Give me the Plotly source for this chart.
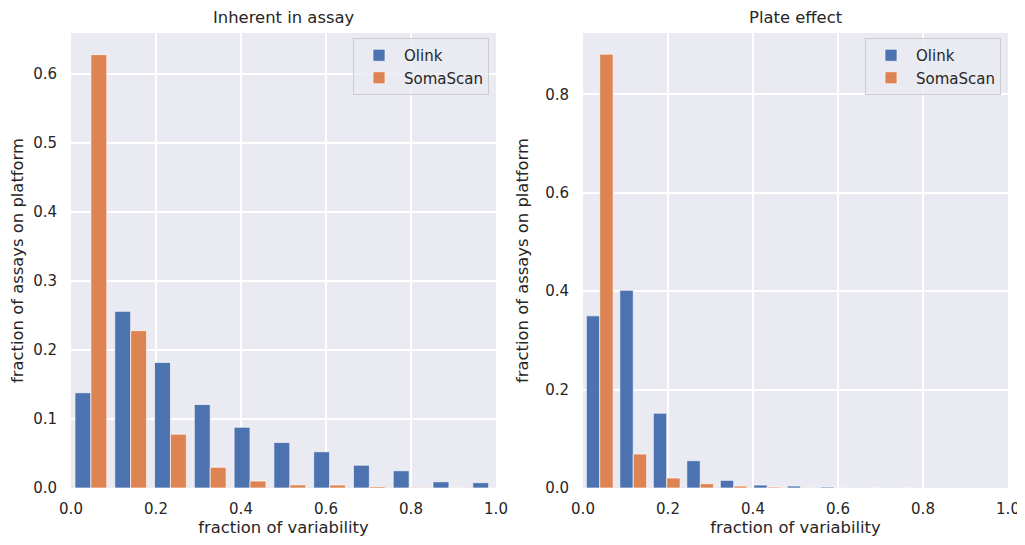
import plotly.graph_objects as go

# ---- data ----
platforms = ["Olink", "SomaScan"]

left_title = "Inherent in assay"
left_bin_width = 0.0936
left_bin_centers = [0.0468, 0.1404, 0.2340, 0.3276, 0.4212, 0.5148, 0.6084, 0.7020, 0.7956, 0.8892, 0.9828]
left_olink = [0.138, 0.256, 0.182, 0.121, 0.088, 0.066, 0.0525, 0.033, 0.025, 0.009, 0.0077]
left_somascan = [0.628, 0.228, 0.078, 0.030, 0.0101, 0.0045, 0.0043, 0.002, 0.001, 0.0005, 0.0003]

right_title = "Plate effect"
right_bin_width = 0.0788
right_bin_centers = [0.0394, 0.1182, 0.1970, 0.2758, 0.3546, 0.4334, 0.5122, 0.5910, 0.6698, 0.7486]
right_olink = [0.350, 0.402, 0.152, 0.0555, 0.0156, 0.006, 0.004, 0.002, 0.001, 0.001]
right_somascan = [0.882, 0.069, 0.0203, 0.0088, 0.004, 0.002, 0.001, 0.0008, 0.0005, 0.0005]

x_ticks = [0.0, 0.2, 0.4, 0.6, 0.8, 1.0]
x_tick_labels = ["0.0", "0.2", "0.4", "0.6", "0.8", "1.0"]
left_y_ticks = [0.0, 0.1, 0.2, 0.3, 0.4, 0.5, 0.6]
left_y_tick_labels = ["0.0", "0.1", "0.2", "0.3", "0.4", "0.5", "0.6"]
right_y_ticks = [0.0, 0.2, 0.4, 0.6, 0.8]
right_y_tick_labels = ["0.0", "0.2", "0.4", "0.6", "0.8"]
x_label = "fraction of variability"
y_label = "fraction of assays on platform"

# ---- style ----
colors = {"Olink": "#4C72B0", "SomaScan": "#DD8452"}
text_color = "#262626"
bg = "#EAEAF2"
# page body has an 8px margin inside the 1025x545 window
OFF = 8
W, H = 1025 - OFF - 3, 545 - 2 * OFF

fig = go.Figure()


def add_panel(centers, bw, olink, soma, xa, ya, legend_name):
    for name, vals, off in [("Olink", olink, -0.4 * bw), ("SomaScan", soma, 0.0)]:
        fig.add_trace(go.Bar(
            x=centers, y=vals, name=name,
            width=[0.4 * bw] * len(centers),
            offset=off,
            marker=dict(color=colors[name], line=dict(color="rgba(255,255,255,0.65)", width=1)),
            xaxis=xa, yaxis=ya, legend=legend_name,
        ))


add_panel(left_bin_centers, left_bin_width, left_olink, left_somascan, "x", "y", "legend")
add_panel(right_bin_centers, right_bin_width, right_olink, right_somascan, "x2", "y2", "legend2")

# domains in window pixels, converted to figure coordinates
lx0, lx1 = 71 - OFF, 496 - OFF
rx0, rx1 = 583 - OFF, 1008 - OFF
ytop, ybot = 33 - OFF, 488 - OFF
dom_y = [(H - ybot) / H, (H - ytop) / H]
leg_top = 38 - OFF
title_y = 17 - OFF

axis_common = dict(
    showgrid=True, gridcolor="white", gridwidth=1.6, zeroline=False, automargin=False,
    showline=False, ticks="", ticklabeloverflow="allow",
    tickfont=dict(size=15, color=text_color, family="DejaVu Sans"),
    title_font=dict(size=16.4, color=text_color, family="DejaVu Sans"),
)

legend_common = dict(
    xanchor="right", y=1 - leg_top / H, yanchor="top",
    bgcolor="rgba(234,234,242,0.85)", bordercolor="#CCCCCC", borderwidth=1,
    itemwidth=40,
    font=dict(size=15, color=text_color, family="DejaVu Sans"),
)

fig.update_layout(
    width=W, height=H,
    margin=dict(l=0, r=0, t=0, b=0, autoexpand=False),
    paper_bgcolor="white",
    plot_bgcolor=bg,
    barmode="overlay",
    font=dict(family="DejaVu Sans", color=text_color),
    xaxis=dict(domain=[lx0 / W, lx1 / W], range=[0, 1], tickvals=x_ticks, ticktext=x_tick_labels,
               anchor="y", title=dict(text=x_label, standoff=7), ticklabelstandoff=10, **axis_common),
    yaxis=dict(domain=dom_y, range=[0, 0.6594], tickvals=left_y_ticks, ticktext=left_y_tick_labels,
               anchor="x", title=dict(text=y_label, standoff=12), ticklabelstandoff=13, **axis_common),
    xaxis2=dict(domain=[rx0 / W, rx1 / W], range=[0, 1], tickvals=x_ticks, ticktext=x_tick_labels,
                anchor="y2", title=dict(text=x_label, standoff=7), ticklabelstandoff=10, **axis_common),
    yaxis2=dict(domain=dom_y, range=[0, 0.925], tickvals=right_y_ticks, ticktext=right_y_tick_labels,
                anchor="x2", title=dict(text=y_label, standoff=12), ticklabelstandoff=13, **axis_common),
    legend=dict(x=(489 - OFF) / W, **legend_common),
    legend2=dict(x=(1001 - OFF) / W, **legend_common),
    annotations=[
        dict(text=left_title, x=(lx0 + lx1) / 2 / W, y=1 - title_y / H, xref="paper", yref="paper",
             showarrow=False, xanchor="center", yanchor="middle",
             font=dict(size=16.4, color=text_color, family="DejaVu Sans")),
        dict(text=right_title, x=(rx0 + rx1) / 2 / W, y=1 - title_y / H, xref="paper", yref="paper",
             showarrow=False, xanchor="center", yanchor="middle",
             font=dict(size=16.4, color=text_color, family="DejaVu Sans")),
    ],
)

fig.write_html("out.html")
